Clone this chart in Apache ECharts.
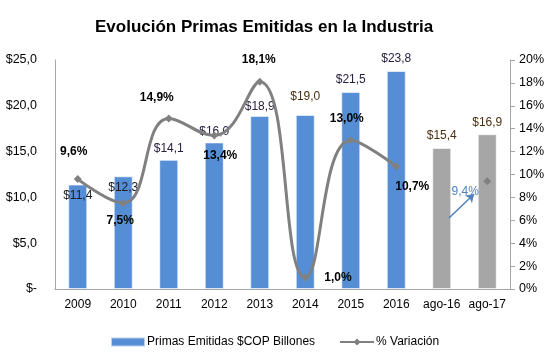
<!DOCTYPE html>
<html>
<head>
<meta charset="utf-8">
<script src="https://cdn.jsdelivr.net/npm/echarts@6/dist/echarts.min.js"></script>
<style>html,body{margin:0;padding:0;background:#fff}#c{width:555px;height:358px}</style>
</head>
<body>
<div id="c"></div>
<script>
var categories = ['2009','2010','2011','2012','2013','2014','2015','2016','ago-16','ago-17'];
var primas = [11.4, 12.3, 14.1, 16.0, 18.9, 19.0, 21.5, 23.8, 15.4, 16.9];
var variacion = [9.6, 7.5, 14.9, 13.4, 18.1, 1.0, 13.0, 10.7, null, 9.4];
var leftTicks = [0, 5, 10, 15, 20, 25];
var rightTicks = [0, 2, 4, 6, 8, 10, 12, 14, 16, 18, 20];
// arrow annotation: category position (fractional) and % value
var arrowFrom = [8.16, 6.2];
var arrowTo = [8.71, 8.3];

var BLUE = '#558ED5', GREY = '#A6A6A6', LINE = '#808080';
var FONT = '"Liberation Sans", Arial, sans-serif';

function fmtMoney(v){ return '$' + v.toFixed(1).replace('.', ','); }
function fmtPct(v){ return v.toFixed(1).replace('.', ',') + '%'; }

var barLabelPos = ['insideTop','insideTop','top','top','top','top','top','top','top','top'];
var barLabelDist = [5,5,5,5,3,12,6,6,6,6];
var barLabelColor = ['#1a1a1a','#1a1a1a','#2a2040','#2a2040','#2a2040','#4a3010','#2a2040','#2a2040','#4a3010','#4a3010'];
var barData = primas.map(function(v, i){
  return {
    value: v,
    itemStyle: {color: i < 8 ? BLUE : GREY},
    label: {position: barLabelPos[i], distance: barLabelDist[i], color: barLabelColor[i]}
  };
});

var pctLabel = [
  {position:'top', distance:17, offset:[-4,0]},
  {position:'bottom', distance:8, offset:[-3,0]},
  {position:'top', distance:11, offset:[-12,0]},
  {position:'bottom', distance:10, offset:[6,0]},
  {position:'top', distance:12, offset:[-1,0]},
  {position:'right', distance:15, offset:[0,0]},
  {position:'top', distance:11, offset:[-4,0]},
  {position:'bottom', distance:10, offset:[16,0]},
  null,
  {position:'inside', distance:0, offset:[-22,10], color:'#4F81BD', fontWeight:'normal'}
];
var lineData = variacion.map(function(v, i){
  var o = {value: v};
  if (pctLabel[i]) o.label = pctLabel[i];
  return o;
});

var chart = echarts.init(document.getElementById('c'), null, {renderer:'canvas'});
chart.setOption({
  animation: false,
  backgroundColor: '#fff',
  textStyle: {fontFamily: FONT},
  title: {
    text: 'Evolución Primas Emitidas en la Industria',
    left: 90, top: 14,
    textStyle: {fontFamily: FONT, fontSize: 17, fontWeight: 'bold', color: '#000'}
  },
  legend: {
    bottom: 5, left: 105, itemGap: 24,
    textStyle: {fontFamily: FONT, fontSize: 12, color: '#000', padding: [0,0,0,-3]},
    data: [
      {name: 'Primas Emitidas $COP Billones', icon: 'rect', itemStyle: {color: BLUE}},
      {name: '% Variación'}
    ],
    itemWidth: 34, itemHeight: 9
  },
  grid: {left: 55, right: 45, top: 60, bottom: 69},
  xAxis: {
    type: 'category', data: categories,
    axisLine: {lineStyle: {color: '#A6A6A6'}},
    axisTick: {show: false},
    axisLabel: {color: '#000', fontSize: 12, margin: 10, fontFamily: FONT, interval: 0}
  },
  yAxis: [
    {
      type: 'value', min: 0, max: 25, interval: 5,
      axisLine: {show: true, lineStyle: {color: '#A6A6A6'}},
      axisTick: {show: false},
      splitLine: {show: false},
      axisLabel: {color: '#000', fontSize: 12.5, fontFamily: FONT, margin: 18,
        formatter: function(v){ return v === 0 ? '$-' : fmtMoney(v); }}
    },
    {
      type: 'value', min: 0, max: 20, interval: 2, position: 'right',
      axisLine: {show: true, lineStyle: {color: '#A6A6A6'}},
      axisTick: {show: true, length: 5, lineStyle: {color: '#A6A6A6'}},
      splitLine: {show: false},
      axisLabel: {color: '#000', fontSize: 12.5, fontFamily: FONT, margin: 9,
        formatter: function(v){ return v + '%'; }}
    }
  ],
  series: [
    {
      name: 'Primas Emitidas $COP Billones', type: 'bar', yAxisIndex: 0,
      barWidth: 19,
      itemStyle: {color: BLUE, borderColor: 'rgba(255,255,255,0.6)', borderWidth: 1},
      label: {show: true, fontSize: 12, fontFamily: FONT, formatter: function(p){ return fmtMoney(p.value); }},
      data: barData,
      z: 2
    },
    {
      name: '% Variación', type: 'line', yAxisIndex: 1,
      smooth: 0.45, connectNulls: false,
      symbol: 'diamond', symbolSize: 8, showSymbol: true,
      lineStyle: {color: LINE, width: 3},
      itemStyle: {color: LINE},
      label: {show: true, fontSize: 12, fontWeight: 'bold', color: '#000', fontFamily: FONT,
        formatter: function(p){ return p.value == null ? '' : fmtPct(p.value); }},
      data: lineData,
      z: 3
    }
  ]
});

// Arrow annotation placed through the chart's own scales
function toPx(pt){
  var i = Math.floor(pt[0]), f = pt[0] - i;
  var a = chart.convertToPixel({xAxisIndex: 0, yAxisIndex: 1}, [i, pt[1]]);
  var b = chart.convertToPixel({xAxisIndex: 0, yAxisIndex: 1}, [i + 1, pt[1]]);
  return [a[0] + (b[0] - a[0]) * f, a[1]];
}
var p1 = toPx(arrowFrom), p2 = toPx(arrowTo);
chart.setOption({
  series: [{}, {
    markLine: {
      silent: true, symbol: ['none', 'arrow'], symbolSize: 8,
      lineStyle: {color: '#4F81BD', width: 1.5, type: 'solid'},
      label: {show: false},
      data: [[{x: p1[0], y: p1[1]}, {x: p2[0], y: p2[1]}]]
    }
  }]
});
</script>
</body>
</html>
